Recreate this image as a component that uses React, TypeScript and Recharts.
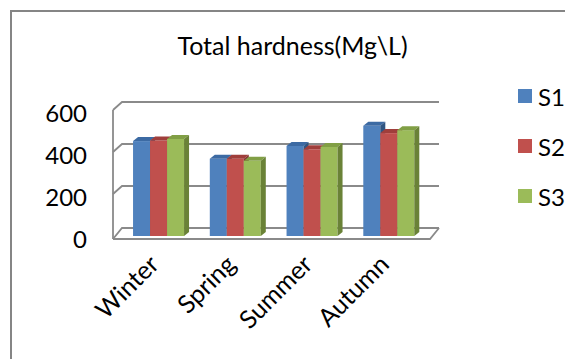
import React from 'react'
import { Bar, BarChart, CartesianGrid, XAxis, YAxis } from 'recharts'

const seasons = ['Winter', 'Spring', 'Summer', 'Autumn']
const s1 = [452, 368, 429, 525]
const s2 = [455, 368, 413, 490]
const s3 = [462, 358, 424, 504]
const yTicks = [0, 200, 400, 600]

const series = [
  { key: 'S1', values: s1, front: '#4F81BD', top: '#3C6AA3', side: '#2F5582' },
  { key: 'S2', values: s2, front: '#C0504D', top: '#A03E3B', side: '#863432' },
  { key: 'S3', values: s3, front: '#9BBB59', top: '#819F45', side: '#6A8237' },
]

const data = seasons.map((name, i) => ({ name, S1: s1[i], S2: s2[i], S3: s3[i] }))

const FONT = 'Lato, "Open Sans", sans-serif'
const GRID = '#8a8a8a'
// wall depth offset
const DX = 9
const DY = 8
// bar depth offset
const BX = 5
const BY = 4

const makeShape = (c: { front: string; top: string; side: string }) => (p: any) => {
  const { x, y, width: w, height: h } = p
  if (h == null || w == null) return null
  return (
    <g>
      <rect x={x} y={y} width={w} height={h} fill={c.front} />
      <polygon points={`${x},${y} ${x + BX},${y - BY} ${x + w + BX},${y - BY} ${x + w},${y}`} fill={c.top} />
      <polygon points={`${x + w},${y} ${x + w + BX},${y - BY} ${x + w + BX},${y + h - BY} ${x + w},${y + h}`} fill={c.side} />
    </g>
  )
}

// each grid line runs up the left wall and along the back wall
const wallLine = (p: any) => {
  const { x1, x2, y1, y, height, index } = p
  const isFloor = Math.abs(y1 - (y + height)) < 1
  const isTop = Math.abs(y1 - y) < 1
  return (
    <g key={`wall-${index}`} fill="none" stroke={GRID} strokeWidth={1.8}>
      <path d={`M${x1},${y1 + (isFloor ? 3 : 0)} L${x1 + DX},${y1 - DY} L${x2 + DX},${y1 - DY}`} />
      {isFloor && (
        <path d={`M${x1},${y1 + 3} L${x2},${y1 + 3} L${x2 + DX},${y1 - DY}`} />
      )}
      {isTop && <path d={`M${x1},${y1} L${x1},${y + height + 3}`} />}
    </g>
  )
}

const YTick = ({ x, y, payload }: any) => (
  <text x={x} y={y + 12} textAnchor="end" fontSize={24} fontFamily={FONT} fill="#000">
    {payload.value}
  </text>
)

const XTick = ({ x, y, payload }: any) => {
  const ax = x + 2
  const ay = y + 22
  return (
    <text x={ax} y={ay} textAnchor="end" fontSize={25} fontFamily={FONT} fill="#000" transform={`rotate(-45, ${ax}, ${ay})`}>
      {payload.value}
    </text>
  )
}

export default function App() {
  return (
    <div style={{ position: 'absolute', left: 0, top: 0, width: 565, height: 359, background: '#fff', fontFamily: FONT }}>
      <div style={{ position: 'absolute', left: 10, top: 10, right: 0, bottom: 0, borderLeft: '2px solid #858585', borderTop: '2px solid #858585' }} />
      <div style={{ position: 'absolute', left: 0, width: 585, top: 30, textAlign: 'center', fontSize: 25, color: '#000' }}>
        Total hardness(Mg\L)
      </div>
      <BarChart
        width={565}
        height={359}
        data={data}
        margin={{ top: 110, right: 135, bottom: 93, left: 63 }}
        barCategoryGap="17%"
        barGap={0}
        style={{ position: 'absolute', left: 0, top: 0 }}
      >
        <CartesianGrid vertical={false} horizontal={wallLine} />
        <XAxis dataKey="name" height={30} axisLine={false} tickLine={false} tick={<XTick />} interval={0} padding={{ left: 7, right: 3 }} />
        <YAxis domain={[0, 600]} ticks={yTicks} width={50} axisLine={false} tickLine={false} tickSize={0} tickMargin={26} tick={<YTick />} />
        {series.map((s) => (
          <Bar key={s.key} dataKey={s.key} fill={s.front} shape={makeShape(s)} isAnimationActive={false} />
        ))}
      </BarChart>
      {series.map((s, i) => (
        <div key={s.key} style={{ position: 'absolute', left: 518, top: 83 + i * 50, height: 26, display: 'flex', alignItems: 'center', fontSize: 24 }}>
          <span style={{ display: 'inline-block', width: 14, height: 14, background: s.front, marginRight: 6 }} />
          {s.key}
        </div>
      ))}
    </div>
  )
}
